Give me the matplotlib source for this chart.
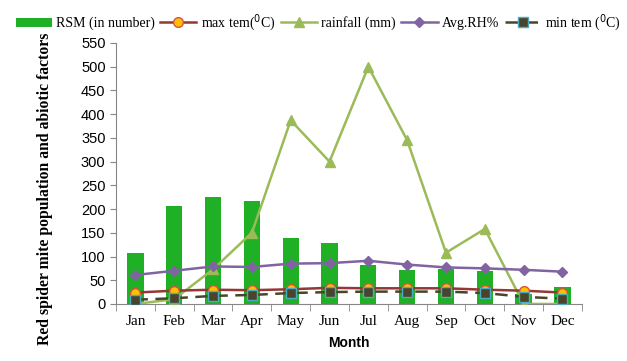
import numpy as np
import matplotlib.pyplot as plt

months = ["Jan", "Feb", "Mar", "Apr", "May", "Jun", "Jul", "Aug", "Sep", "Oct", "Nov", "Dec"]
rsm = [108, 206, 226, 218, 140, 128, 82, 72, 74, 69, 20, 35]
max_tem = [24, 28, 30, 29, 31, 34, 33, 33, 33, 30, 28, 24]
rainfall = [0, 10, 73, 150, 387, 300, 500, 345, 108, 158, 0, 0]
rh = [61, 70, 79, 78, 85, 86, 91, 83, 77, 75, 72, 68]
min_tem = [9, 12, 17, 19, 23, 25, 26, 26, 26, 23, 15, 11]

serif = "Liberation Serif"
sans = "Liberation Sans"

fig = plt.figure(figsize=(6.27, 3.61), dpi=100)
ax = fig.add_axes([0.185, 0.158, 0.743, 0.723])
x = np.arange(len(months))

bars = ax.bar(x, rsm, width=0.42, color="#1fb025", label="RSM (in number)", zorder=2)
l1, = ax.plot(x, max_tem, color="#953735", lw=1.8, marker="o", ms=7,
              mfc="#ffc000", mec="#e0503a", mew=1, label="max tem($^0$C)", zorder=4)
l2, = ax.plot(x, rainfall, color="#9bbb59", lw=1.8, marker="^", ms=7,
              mfc="#9bbb59", mec="#9bbb59", label="rainfall (mm)", zorder=3)
l3, = ax.plot(x, rh, color="#8064a2", lw=1.8, marker="D", ms=5.5,
              mfc="#8064a2", mec="#8064a2", label="Avg.RH%", zorder=3)
l4, = ax.plot(x, min_tem, color="#4a452a", lw=1.8, ls=(0, (5, 3)), marker="s", ms=7,
              mfc="#4a452a", mec="#4bacc6", mew=1, label="min tem ($^0$C)", zorder=5)

ax.set_xlim(-0.5, 11.5)
ax.set_ylim(0, 550)
ax.set_yticks(range(0, 551, 50))
ax.set_xticks(x)
ax.set_xticklabels(months, fontfamily=serif, fontsize=11)
ax.set_xticks(np.arange(-0.5, 12, 1), minor=True)
ax.tick_params(axis="x", which="major", length=0, pad=8)
ax.tick_params(axis="x", which="minor", length=5, color="#868686")
ax.tick_params(axis="y", length=4, color="#868686", labelsize=10.5)
for lab in ax.get_yticklabels():
    lab.set_fontfamily(sans)
for s in ["top", "right"]:
    ax.spines[s].set_visible(False)
for s in ["left", "bottom"]:
    ax.spines[s].set_color("#868686")

ax.set_xlabel("Month", fontfamily=sans, fontweight="bold", fontsize=10, labelpad=6)
ax.set_ylabel("Red spider mite population and abiotic factors", fontfamily=serif,
              fontweight="bold", fontsize=11.3)
ax.yaxis.set_label_coords(-0.135, 0.44)

fig.legend(handles=[bars, l1, l2, l3, l4], loc="upper left",
           bbox_to_anchor=(0.005, 1.0), ncol=5, frameon=False,
           prop={"family": serif, "size": 10}, handlelength=2.6,
           handletextpad=0.3, columnspacing=0.4)

fig.savefig("out.png", dpi=100)
